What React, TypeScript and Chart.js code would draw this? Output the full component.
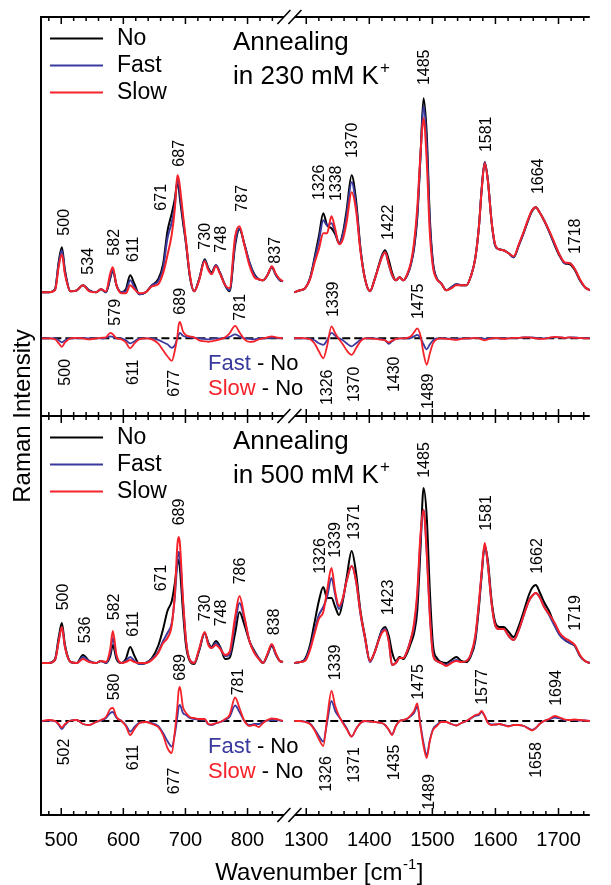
import React, { useEffect, useRef } from 'react';
import { Chart, registerables } from 'chart.js';

Chart.register(...registerables);

const FONT = '"Liberation Sans", Arial, Helvetica, sans-serif';
const C_NO = '#000000';
const C_FAST = '#3a3a9e';
const C_SLOW = '#f5222a';

// axis ranges (broken wavenumber axis, two stacked panels)
const X_LEFT_RANGE = [467.4, 867.4];
const X_RIGHT_RANGE = [1273.3, 1749.6];
const Y_TOP_RANGE = [-7.77, 32.13];
const Y_BOTTOM_RANGE = [-9.4, 30.5];

const LEFT_TICKS = [500, 600, 700, 800];
const RIGHT_TICKS = [1300, 1400, 1500, 1600, 1700];
const MINOR_STEP = 20;

const SERIES_NAMES = ['No', 'Fast', 'Slow'];
const DIFF_NAMES = ['Fast', 'Slow'];
const PANEL_TITLES = ['in 230 mM K', 'in 500 mM K'];
const X_TITLE = 'Wavenumber [cm';
const Y_TITLE = 'Raman Intensity';

// wavenumber grids
const LEFT_WN = [468, 480, 490, 496, 501, 506, 515, 525, 535, 545, 556, 564, 572, 579, 583, 589, 597, 604, 611, 618, 626, 636, 646, 656, 664, 671, 678, 683, 687, 689, 691, 696, 701, 707, 714, 722, 731, 737, 742, 749, 756, 764, 771, 780, 787, 795, 803, 811, 818, 825, 832, 839, 846, 852, 857];
const RIGHT_WN = [1281, 1290, 1298, 1306, 1313, 1320, 1327, 1333, 1340, 1346, 1352, 1358, 1364, 1372, 1379, 1386, 1393, 1401, 1408, 1415, 1420, 1425, 1431, 1436, 1442, 1448, 1454, 1460, 1466, 1471, 1476, 1481, 1486, 1491, 1496, 1501, 1507, 1514, 1522, 1530, 1538, 1546, 1554, 1561, 1568, 1574, 1578, 1583, 1588, 1594, 1600, 1606, 1613, 1621, 1629, 1637, 1645, 1653, 1658, 1664, 1670, 1677, 1685, 1694, 1702, 1710, 1718, 1726, 1734, 1742, 1750];

// ---- top panel (230 mM K+) ----
const TOP_LEFT_NO = [4.6, 4.6, 4.9, 7.7, 9.1, 6.8, 4.7, 4.8, 5.3, 4.8, 4.6, 4.9, 4.6, 6.0, 6.8, 5.3, 4.6, 4.9, 6.3, 5.4, 4.4, 4.6, 5.3, 5.9, 7.4, 10.7, 12.5, 14.0, 15.6, 15.1, 14.0, 11.6, 9.4, 6.2, 4.7, 5.9, 7.9, 7.0, 6.6, 7.3, 6.5, 5.3, 4.7, 9.3, 10.9, 9.4, 7.6, 6.4, 5.9, 5.8, 6.3, 7.1, 6.3, 5.8, 5.7];
const TOP_LEFT_FAST = [4.6, 4.6, 4.9, 7.5, 8.8, 6.6, 4.7, 4.8, 5.3, 4.8, 4.6, 4.9, 4.6, 6.1, 6.9, 5.3, 4.6, 4.7, 5.8, 5.1, 4.4, 4.6, 5.3, 5.7, 7.0, 10.0, 11.6, 13.4, 15.8, 15.6, 14.5, 12.0, 9.5, 6.3, 4.7, 5.9, 7.8, 6.9, 6.5, 7.3, 6.5, 5.3, 4.8, 9.6, 11.0, 9.4, 7.6, 6.3, 5.9, 5.8, 6.3, 7.1, 6.3, 5.8, 5.7];
const TOP_LEFT_SLOW = [4.6, 4.6, 4.8, 7.2, 8.4, 6.4, 4.7, 4.8, 5.3, 4.7, 4.6, 4.9, 4.7, 6.5, 7.1, 5.3, 4.5, 4.5, 5.3, 4.9, 4.5, 4.6, 5.2, 5.4, 6.5, 8.3, 10.4, 13.0, 16.3, 16.0, 15.2, 12.4, 9.7, 6.4, 4.7, 5.8, 7.7, 6.8, 6.4, 7.2, 6.4, 5.3, 5.0, 10.2, 11.2, 9.3, 7.3, 6.1, 5.9, 5.8, 6.3, 7.2, 6.4, 5.9, 5.7];
const TOP_LEFT_FAST_DIFF = [0, 0, 0, -0.2, -0.4, -0.2, 0, 0, 0.05, 0, 0, 0, 0.05, 0.2, 0.15, 0, 0, -0.2, -0.5, -0.3, 0, 0, 0, -0.15, -0.4, -0.6, -0.95, -0.7, 0, 0.35, 0.55, 0.25, 0.15, 0.1, 0.05, 0, -0.05, -0.1, -0.05, 0, 0, 0.05, 0.15, 0.4, 0.2, 0, -0.05, -0.1, 0, 0, 0, 0.05, 0.05, 0, 0];
const TOP_LEFT_SLOW_DIFF = [0, 0, -0.1, -0.5, -0.85, -0.4, 0, 0.05, 0, -0.1, 0, 0.05, 0.1, 0.55, 0.4, 0, -0.1, -0.4, -1.0, -0.5, -0.1, 0, -0.1, -0.5, -1.2, -1.8, -2.25, -1.2, 0.2, 1.3, 1.65, 0.7, 0.3, 0.2, 0.1, -0.2, -0.3, -0.35, -0.3, -0.2, -0.1, 0.1, 0.5, 1.25, 0.6, -0.1, -0.35, -0.3, -0.1, 0, 0.1, 0.2, 0.1, 0.05, 0];

const TOP_RIGHT_NO = [4.6, 4.8, 5.0, 6.0, 8.0, 10.2, 12.5, 11.3, 11.0, 10.4, 9.5, 10.5, 12.8, 16.3, 13.8, 9.0, 6.0, 4.7, 5.8, 7.3, 8.3, 8.8, 7.8, 6.6, 5.8, 6.1, 5.8, 6.3, 7.4, 9.0, 12.0, 18.0, 24.0, 20.5, 12.0, 7.6, 6.0, 5.5, 4.8, 5.1, 5.4, 5.3, 5.3, 6.2, 8.0, 11.3, 14.8, 17.6, 15.8, 11.6, 9.2, 8.9, 8.8, 8.5, 8.1, 9.3, 10.6, 12.0, 12.7, 13.1, 12.6, 11.8, 10.7, 9.3, 8.2, 7.5, 7.4, 6.8, 5.8, 5.1, 4.8];
const TOP_RIGHT_FAST = [4.6, 4.8, 5.0, 6.0, 7.8, 9.7, 11.8, 11.3, 11.5, 10.6, 9.5, 10.3, 12.3, 15.6, 13.3, 8.9, 6.0, 4.7, 5.8, 7.2, 8.2, 8.6, 7.3, 6.3, 5.8, 6.1, 5.8, 6.3, 7.4, 9.2, 12.3, 18.0, 23.2, 19.5, 11.5, 7.4, 6.0, 5.5, 4.8, 5.1, 5.4, 5.3, 5.3, 6.2, 8.0, 11.3, 14.8, 17.6, 15.8, 11.6, 9.2, 8.9, 8.8, 8.5, 8.1, 9.3, 10.6, 12.0, 12.8, 13.1, 12.6, 11.8, 10.7, 9.4, 8.3, 7.5, 7.5, 6.9, 5.8, 5.1, 4.8];
const TOP_RIGHT_SLOW = [4.6, 4.8, 5.0, 5.9, 7.5, 8.9, 10.5, 10.5, 12.2, 10.9, 9.4, 9.9, 11.6, 14.6, 12.8, 8.7, 6.0, 4.7, 5.8, 7.2, 8.1, 8.6, 7.4, 6.4, 5.8, 6.1, 5.8, 6.4, 7.6, 9.6, 13.0, 18.3, 22.0, 17.8, 10.5, 7.1, 5.9, 5.5, 4.8, 5.0, 5.3, 5.3, 5.3, 6.2, 8.0, 11.3, 14.7, 17.5, 15.7, 11.6, 9.3, 8.9, 8.8, 8.5, 8.2, 9.4, 10.7, 12.1, 12.8, 13.1, 12.6, 11.8, 10.8, 9.5, 8.3, 7.6, 7.5, 6.9, 5.9, 5.1, 4.8];
const TOP_RIGHT_FAST_DIFF = [0, 0, 0, -0.05, -0.2, -0.5, -0.65, -0.2, 0.55, 0.25, 0, -0.2, -0.5, -0.8, -0.5, -0.15, 0, 0, 0, -0.05, -0.1, -0.2, -0.55, -0.3, -0.05, 0, 0, 0, 0.05, 0.2, 0.35, 0.05, -0.6, -1.1, -0.6, -0.2, 0, 0, 0, -0.05, -0.05, 0, 0, 0, 0.05, 0.05, 0, -0.05, 0, 0, 0, 0, 0, 0, 0.05, 0.05, 0.1, 0.1, 0.1, 0.05, 0, 0, 0.05, 0.1, 0.1, 0.05, 0.1, 0.1, 0.05, 0.05, 0];
const TOP_RIGHT_SLOW_DIFF = [0, 0.05, 0, -0.1, -0.5, -1.3, -2.0, -0.8, 1.2, 0.5, -0.1, -0.6, -1.2, -1.65, -1.0, -0.3, 0, 0, -0.05, -0.1, -0.15, -0.2, -0.4, -0.25, -0.05, 0, 0, 0.05, 0.2, 0.6, 1.0, 0.3, -1.5, -2.65, -1.5, -0.5, -0.1, 0, -0.05, -0.1, -0.15, -0.05, 0, 0, 0.05, 0, -0.1, -0.2, -0.1, 0, 0.05, 0, -0.05, 0, 0.05, 0.05, 0.1, 0.1, 0.05, 0, -0.05, -0.05, 0.05, 0.15, 0.1, 0.05, 0.1, 0.05, 0.05, 0, 0];

// ---- bottom panel (500 mM K+) ----
const BOTTOM_LEFT_NO = [5.8, 5.8, 6.2, 8.4, 9.8, 7.6, 5.9, 5.8, 6.6, 6.0, 5.8, 6.0, 5.8, 6.5, 7.6, 6.2, 5.8, 6.2, 7.4, 6.5, 5.7, 5.8, 6.3, 7.5, 9.2, 11.0, 12.0, 13.8, 15.8, 16.1, 15.3, 11.0, 7.5, 6.0, 5.7, 7.0, 8.8, 7.8, 7.4, 8.0, 7.4, 6.2, 6.3, 8.8, 10.9, 9.6, 8.0, 7.0, 6.3, 5.8, 6.6, 7.5, 6.6, 6.0, 5.9];
const BOTTOM_LEFT_FAST = [5.8, 5.8, 6.1, 8.1, 9.4, 7.4, 5.9, 5.8, 6.4, 6.0, 5.8, 6.0, 5.8, 6.8, 8.3, 6.4, 5.8, 6.0, 6.4, 6.0, 5.7, 5.8, 6.2, 6.9, 8.0, 8.8, 9.8, 12.5, 16.0, 16.9, 16.5, 12.0, 8.0, 6.1, 5.8, 7.1, 8.8, 7.7, 7.3, 7.8, 7.3, 6.5, 6.6, 9.8, 11.8, 10.2, 8.0, 6.9, 6.3, 5.8, 6.6, 7.6, 6.6, 6.0, 5.9];
const BOTTOM_LEFT_SLOW = [5.8, 5.8, 6.1, 8.0, 9.4, 7.4, 5.9, 5.8, 6.2, 5.9, 5.8, 6.0, 5.9, 7.2, 9.0, 6.6, 5.8, 5.9, 6.1, 5.9, 5.8, 5.8, 6.1, 6.8, 7.8, 8.3, 9.6, 12.8, 17.6, 18.4, 17.8, 12.2, 8.0, 6.1, 5.8, 7.2, 8.9, 7.6, 7.3, 7.6, 7.2, 6.6, 6.9, 10.4, 12.5, 10.4, 8.0, 6.8, 6.2, 5.8, 6.7, 7.7, 6.7, 6.0, 5.9];
const BOTTOM_LEFT_FAST_DIFF = [0, 0.05, 0, -0.4, -0.8, -0.4, 0.05, 0.1, -0.3, -0.4, -0.1, 0.05, 0.3, 0.8, 0.9, 0.3, 0, -0.4, -1.05, -0.6, -0.15, -0.1, -0.2, -0.5, -1.2, -2.0, -2.55, -1.3, 0.4, 1.4, 1.6, 0.8, 0.6, 0.3, 0.2, 0.15, 0.1, -0.35, -0.4, -0.25, -0.1, 0.1, 0.4, 1.55, 0.9, 0, -0.4, -0.3, -0.3, -0.1, 0.05, 0.1, 0.1, 0.05, 0];
const BOTTOM_LEFT_SLOW_DIFF = [0, 0.1, 0, -0.3, -0.65, -0.3, 0.05, 0.1, -0.3, -0.4, -0.1, 0.1, 0.4, 1.2, 1.3, 0.4, 0, -0.5, -1.4, -0.8, -0.2, -0.1, -0.3, -0.6, -1.4, -2.7, -3.2, -1.0, 1.5, 3.0, 3.4, 1.4, 0.8, 0.4, 0.3, 0.2, 0.2, -0.3, -0.35, -0.2, -0.1, 0.2, 0.6, 2.35, 1.3, 0, -0.5, -0.4, -0.6, -0.2, 0.1, 0.25, 0.2, 0.1, 0];

const BOTTOM_RIGHT_NO = [5.8, 5.9, 6.2, 7.6, 9.8, 12.0, 13.4, 12.3, 12.3, 11.4, 10.6, 12.0, 14.3, 17.0, 14.8, 11.0, 8.5, 6.0, 6.8, 8.2, 9.1, 9.4, 8.5, 6.9, 6.0, 6.4, 6.2, 6.8, 7.8, 8.8, 11.0, 17.0, 23.3, 20.5, 13.0, 7.6, 6.3, 5.9, 5.8, 6.1, 6.4, 6.0, 5.9, 6.5, 8.0, 11.5, 14.5, 17.5, 16.0, 12.0, 9.8, 9.4, 9.4, 8.9, 8.4, 9.5, 11.0, 12.6, 13.3, 13.6, 12.9, 11.9, 11.0, 9.6, 8.6, 8.1, 7.8, 7.5, 6.5, 6.0, 5.8];
const BOTTOM_RIGHT_FAST = [5.8, 5.9, 6.1, 7.3, 9.0, 10.6, 11.4, 12.4, 14.3, 12.6, 11.2, 12.2, 14.0, 15.5, 14.0, 10.7, 8.3, 5.9, 6.8, 8.1, 9.0, 9.2, 8.0, 5.6, 5.8, 6.3, 6.3, 7.0, 8.2, 9.4, 12.4, 18.0, 21.1, 17.1, 10.8, 6.8, 6.0, 5.8, 5.6, 5.9, 6.1, 5.9, 6.0, 6.6, 8.3, 11.8, 14.6, 17.6, 15.6, 11.7, 9.5, 9.2, 9.2, 8.5, 8.1, 9.1, 10.6, 12.0, 12.5, 12.8, 12.4, 11.5, 10.6, 9.5, 8.6, 8.1, 7.8, 7.5, 6.5, 6.0, 5.8];
const BOTTOM_RIGHT_SLOW = [5.8, 5.9, 6.0, 7.1, 8.7, 10.2, 10.9, 13.0, 15.3, 12.9, 11.5, 12.3, 14.0, 15.5, 14.0, 10.8, 8.4, 6.0, 6.8, 8.1, 8.8, 9.1, 7.9, 5.6, 5.8, 6.3, 6.3, 7.0, 8.2, 9.8, 12.8, 18.5, 21.1, 16.8, 10.5, 6.6, 6.0, 5.8, 5.5, 5.8, 6.0, 5.9, 6.0, 6.7, 8.5, 12.0, 14.8, 17.8, 15.6, 11.7, 9.5, 9.2, 9.2, 8.5, 8.1, 9.1, 10.6, 12.0, 12.5, 12.8, 12.4, 11.4, 10.7, 9.8, 8.8, 8.3, 8.0, 7.6, 6.6, 6.0, 5.8];
const BOTTOM_RIGHT_FAST_DIFF = [0, 0, -0.05, -0.25, -0.8, -1.5, -2.05, -0.2, 2.0, 1.0, 0.4, -0.1, -0.7, -1.55, -0.8, -0.2, 0, -0.05, -0.1, -0.15, -0.2, -0.4, -0.9, -1.35, -0.5, 0, 0.1, 0.2, 0.5, 0.8, 1.45, -0.3, -2.2, -3.4, -1.9, -0.8, -0.4, -0.05, -0.1, -0.3, -0.45, -0.2, 0, 0.25, 0.5, 0.6, 0.9, 0.5, -0.15, -0.35, -0.35, -0.3, -0.4, -0.5, -0.4, -0.4, -0.5, -0.75, -0.9, -0.7, -0.3, 0, 0.15, 0.35, 0.25, 0.1, 0.1, 0.1, 0.05, 0.05, 0];
const BOTTOM_RIGHT_SLOW_DIFF = [0, 0, -0.1, -0.3, -0.9, -1.8, -2.5, 0.2, 3.0, 1.5, 0.5, -0.2, -0.8, -1.55, -0.8, -0.2, 0, -0.05, -0.1, -0.15, -0.2, -0.4, -0.9, -1.4, -0.5, 0, 0.1, 0.25, 0.6, 1.0, 1.75, -0.5, -2.5, -3.7, -2.0, -0.9, -0.5, -0.1, -0.1, -0.3, -0.45, -0.2, 0, 0.3, 0.6, 0.7, 1.0, 0.5, -0.2, -0.4, -0.35, -0.3, -0.4, -0.55, -0.4, -0.4, -0.5, -0.8, -0.95, -0.7, -0.3, 0, 0.2, 0.5, 0.35, 0.15, 0.1, 0.15, 0.1, 0.05, 0];

// peak annotations: [text, wavenumber position, intensity position]
const TOP_LABELS: [string, number, number][] = [
  ['500', 504.7, 11.6], ['534', 543.4, 7.7], ['582', 585.7, 9.6], ['611', 615.8, 8.9], ['671', 662.3, 14.1],
  ['687', 690.7, 18.5], ['730', 732.1, 10.2], ['748', 757.8, 9.9], ['787', 791.5, 14.0], ['837', 845.7, 8.8],
  ['1326', 1320.6, 15.6], ['1338', 1348.5, 15.5], ['1370', 1374.0, 19.8], ['1422', 1430.1, 11.6],
  ['1485', 1487.5, 27.1], ['1581', 1585.2, 20.4], ['1664', 1669.1, 16.2], ['1718', 1726.6, 10.2],
  ['579', 587.3, 2.6], ['689', 692.6, 3.7], ['781', 788.8, 3.1], ['500', 506.2, -3.4], ['611', 615.8, -3.4],
  ['677', 683.0, -4.5], ['1339', 1343.5, 3.9], ['1475', 1478.3, 3.7], ['1326', 1333.3, -4.9],
  ['1370', 1376.6, -4.6], ['1430', 1440.1, -3.6], ['1489', 1493.6, -5.3],
];
const BOTTOM_LABELS: [string, number, number][] = [
  ['500', 503.6, 12.4], ['536', 539.2, 9.1], ['582', 585.7, 11.4], ['611', 615.8, 9.7], ['671', 662.3, 14.3],
  ['689', 690.7, 20.9], ['730', 732.1, 11.3], ['748', 757.8, 10.8], ['786', 788.8, 15.0], ['838', 843.1, 9.9],
  ['1326', 1323.2, 16.5], ['1339', 1346.1, 18.1], ['1371', 1376.6, 19.9], ['1423', 1430.1, 12.35],
  ['1485', 1487.5, 26.1], ['1581', 1585.2, 20.8], ['1662', 1666.6, 16.5], ['1719', 1727.7, 10.8],
  ['580', 585.7, 3.4], ['689', 692.6, 5.35], ['781', 786.3, 3.9], ['502', 504.7, -3.1], ['611', 615.8, -3.65],
  ['677', 683.0, -6.0], ['1339', 1346.1, 5.85], ['1475', 1478.3, 3.9], ['1577', 1579.0, 3.4], ['1694', 1697.2, 3.3],
  ['1326', 1331.8, -5.3], ['1371', 1376.6, -4.4], ['1435', 1440.1, -4.15], ['1489', 1495.1, -7.1], ['1658', 1665.6, -3.9],
];

const SERIES_COLORS = [C_NO, C_FAST, C_SLOW];

const pts = (xs: number[], ys: number[]) => xs.map((x, i) => ({ x, y: ys[i] }));

function line(label: string, xs: number[], ys: number[], color: string, xAxisID: string, yAxisID: string, order: number, width = 2) {
  return {
    label, data: pts(xs, ys), borderColor: color, backgroundColor: color, borderWidth: width,
    pointRadius: 0, fill: false, cubicInterpolationMode: 'monotone', xAxisID, yAxisID, order,
  };
}
function zeroLine(xs: number[], xAxisID: string, yAxisID: string) {
  return {
    label: 'zero', data: [{ x: xs[0], y: 0 }, { x: xs[xs.length - 1], y: 0 }], borderColor: '#000',
    borderWidth: 2, borderDash: [8, 4], pointRadius: 0, fill: false, xAxisID, yAxisID, order: 9,
  };
}

function buildDatasets() {
  const out: any[] = [];
  const panels = [
    { y: 'yT', left: [TOP_LEFT_NO, TOP_LEFT_FAST, TOP_LEFT_SLOW], right: [TOP_RIGHT_NO, TOP_RIGHT_FAST, TOP_RIGHT_SLOW],
      ldiff: [TOP_LEFT_FAST_DIFF, TOP_LEFT_SLOW_DIFF], rdiff: [TOP_RIGHT_FAST_DIFF, TOP_RIGHT_SLOW_DIFF] },
    { y: 'yB', left: [BOTTOM_LEFT_NO, BOTTOM_LEFT_FAST, BOTTOM_LEFT_SLOW], right: [BOTTOM_RIGHT_NO, BOTTOM_RIGHT_FAST, BOTTOM_RIGHT_SLOW],
      ldiff: [BOTTOM_LEFT_FAST_DIFF, BOTTOM_LEFT_SLOW_DIFF], rdiff: [BOTTOM_RIGHT_FAST_DIFF, BOTTOM_RIGHT_SLOW_DIFF] },
  ];
  panels.forEach((p) => {
    out.push(zeroLine(LEFT_WN, 'xL', p.y), zeroLine(RIGHT_WN, 'xR', p.y));
    SERIES_NAMES.forEach((n, i) => {
      out.push(line(n, LEFT_WN, p.left[i], SERIES_COLORS[i], 'xL', p.y, 6 - i * 2));
      out.push(line(n, RIGHT_WN, p.right[i], SERIES_COLORS[i], 'xR', p.y, 6 - i * 2));
    });
    DIFF_NAMES.forEach((n, i) => {
      const col = i === 0 ? C_FAST : C_SLOW;
      out.push(line(n + ' - No', LEFT_WN, p.ldiff[i], col, 'xL', p.y, 3 - i * 2, 1.8));
      out.push(line(n + ' - No', RIGHT_WN, p.rdiff[i], col, 'xR', p.y, 3 - i * 2, 1.8));
    });
  });
  return out;
}

const decor = {
  id: 'decor',
  afterDraw(chart: any) {
    const { ctx, chartArea } = chart;
    const { xL, xR, yT, yB } = chart.scales;
    const left = chartArea.left, right = chartArea.right;
    const brk = xL.right;
    const bL = brk - 5.5, bR = brk + 5.5;
    ctx.save();
    ctx.strokeStyle = '#000';
    ctx.fillStyle = '#000';
    ctx.lineWidth = 2;
    ctx.beginPath();
    ctx.moveTo(left, yT.top - 1);
    ctx.lineTo(left, yB.bottom + 1);
    ctx.stroke();

    const rows = [
      { y: yT.top, up: false, down: true },
      { y: yB.top, up: true, down: true },
      { y: yB.bottom, up: true, down: false },
    ];
    rows.forEach((r) => {
      ctx.strokeStyle = '#000';
      ctx.lineWidth = 2;
      ctx.beginPath();
      ctx.moveTo(left, r.y); ctx.lineTo(bL, r.y);
      ctx.moveTo(bR, r.y); ctx.lineTo(right, r.y);
      ctx.stroke();
      ctx.lineWidth = 1.6;
      ctx.beginPath();
      [bL, bR].forEach((c) => { ctx.moveTo(c - 6.5, r.y + 7); ctx.lineTo(c + 6.5, r.y - 7); });
      ctx.stroke();
      ctx.lineWidth = 1.5;
      ctx.beginPath();
      const tick = (px: number, major: boolean) => {
        if (px <= left + 1 || px >= right - 0.5 || (px > bL - 4 && px < bR + 4)) return;
        const len = major ? 7 : 4;
        ctx.moveTo(px, r.up ? r.y - len : r.y);
        ctx.lineTo(px, r.down ? r.y + len : r.y);
      };
      ([[xL, LEFT_TICKS], [xR, RIGHT_TICKS]] as any[]).forEach(([sc, majors]) => {
        for (let v = Math.ceil(sc.min / MINOR_STEP) * MINOR_STEP; v <= sc.max; v += MINOR_STEP) {
          tick(sc.getPixelForValue(v), majors.includes(v));
        }
      });
      ctx.stroke();
    });

    const panels = [
      { ys: yT, title: PANEL_TITLES[0], labels: TOP_LABELS },
      { ys: yB, title: PANEL_TITLES[1], labels: BOTTOM_LABELS },
    ];
    panels.forEach((p) => {
      const top = p.ys.top;
      // legend
      SERIES_NAMES.forEach((n, i) => {
        const yy = top + 21.5 + i * 27;
        ctx.strokeStyle = SERIES_COLORS[i];
        ctx.lineWidth = 2;
        ctx.beginPath(); ctx.moveTo(left + 9, yy); ctx.lineTo(left + 62, yy); ctx.stroke();
        ctx.fillStyle = '#000';
        ctx.font = `23px ${FONT}`;
        ctx.textAlign = 'left';
        ctx.textBaseline = 'middle';
        ctx.fillText(n, left + 76, yy);
      });
      // panel title
      ctx.fillStyle = '#000';
      ctx.font = `26px ${FONT}`;
      ctx.textAlign = 'left';
      ctx.textBaseline = 'alphabetic';
      ctx.fillText('Annealing', left + 192, top + 33);
      ctx.fillText(p.title, left + 192, top + 67);
      const tw = ctx.measureText(p.title).width;
      ctx.font = `17px ${FONT}`;
      ctx.fillText('+', left + 192 + tw + 1, top + 56);
      // difference legend
      const z = p.ys.getPixelForValue(0);
      ctx.font = `22px ${FONT}`;
      ctx.textBaseline = 'middle';
      DIFF_NAMES.forEach((n, i) => {
        const yy = z + 26 + i * 25;
        ctx.fillStyle = i === 0 ? C_FAST : C_SLOW;
        ctx.fillText(n, left + 167, yy);
        const w = ctx.measureText(n).width;
        ctx.fillStyle = '#000';
        ctx.fillText(' - No', left + 167 + w, yy);
      });
      // peak labels
      ctx.font = `16px ${FONT}`;
      ctx.fillStyle = '#000';
      p.labels.forEach(([t, wn, iv]) => {
        const sc = wn > 1000 ? xR : xL;
        const px = sc.getPixelForValue(wn), py = p.ys.getPixelForValue(iv);
        ctx.save();
        ctx.translate(px, py);
        ctx.rotate(-Math.PI / 2);
        ctx.textAlign = 'center';
        ctx.textBaseline = 'middle';
        ctx.fillText(t, 0, 0);
        ctx.restore();
      });
    });

    // y title
    ctx.save();
    ctx.translate(left - 11, (yT.top + yB.bottom) / 2);
    ctx.rotate(-Math.PI / 2);
    ctx.font = `24px ${FONT}`;
    ctx.fillStyle = '#000';
    ctx.textAlign = 'center';
    ctx.textBaseline = 'alphabetic';
    ctx.fillText(Y_TITLE, 0, 0);
    ctx.restore();

    // x title with superscript
    ctx.fillStyle = '#000';
    ctx.textAlign = 'left';
    ctx.textBaseline = 'alphabetic';
    ctx.font = `24px ${FONT}`;
    const wa = ctx.measureText(X_TITLE).width;
    const wb = ctx.measureText(']').width;
    ctx.font = `15px ${FONT}`;
    const ws = ctx.measureText('-1').width;
    const total = wa + ws + wb + 1;
    const x0 = (left + right) / 2 + 4 - total / 2;
    const by = yB.bottom + 65;
    ctx.font = `24px ${FONT}`;
    ctx.fillText(X_TITLE, x0, by);
    ctx.font = `15px ${FONT}`;
    ctx.fillText('-1', x0 + wa + 0.5, by - 11);
    ctx.font = `24px ${FONT}`;
    ctx.fillText(']', x0 + wa + ws + 1, by);
    ctx.restore();
  },
};

function xScale(range: number[], ticks: number[], weight: number) {
  return {
    type: 'linear', position: 'bottom', stack: 'x', stackWeight: weight, bounds: 'data',
    min: range[0], max: range[1],
    grid: { display: false, drawTicks: false },
    border: { display: false },
    afterBuildTicks: (s: any) => { s.ticks = ticks.map((v) => ({ value: v })); },
    ticks: {
      autoSkip: false, maxRotation: 0, minRotation: 0, padding: 13, color: '#000',
      font: { family: FONT, size: 20 }, callback: (v: any) => String(v),
    },
  };
}
function yScale(range: number[]) {
  return { type: 'linear', display: false, position: 'left', stack: 'y', stackWeight: 1, bounds: 'data', min: range[0], max: range[1] };
}

export default function App() {
  const ref = useRef<HTMLCanvasElement>(null);
  useEffect(() => {
    const chart = new Chart(ref.current as HTMLCanvasElement, {
      type: 'line',
      data: { datasets: buildDatasets() },
      options: {
        animation: false,
        responsive: true,
        maintainAspectRatio: false,
        events: [],
        layout: { padding: { left: 41, right: 0, top: 17, bottom: 20 } },
        plugins: { legend: { display: false }, tooltip: { enabled: false }, title: { display: false } },
        scales: {
          // left-position boxes are laid out in reverse order: bottom panel listed first
          yB: yScale(Y_BOTTOM_RANGE),
          yT: yScale(Y_TOP_RANGE),
          xL: xScale(X_LEFT_RANGE, LEFT_TICKS, 258),
          xR: xScale(X_RIGHT_RANGE, RIGHT_TICKS, 312),
        },
      } as any,
      plugins: [decor],
    });
    return () => chart.destroy();
  }, []);
  return (
    <div style={{ position: 'absolute', left: 0, top: 0, width: 611, height: 885, background: '#fff' }}>
      <canvas ref={ref} />
    </div>
  );
}
